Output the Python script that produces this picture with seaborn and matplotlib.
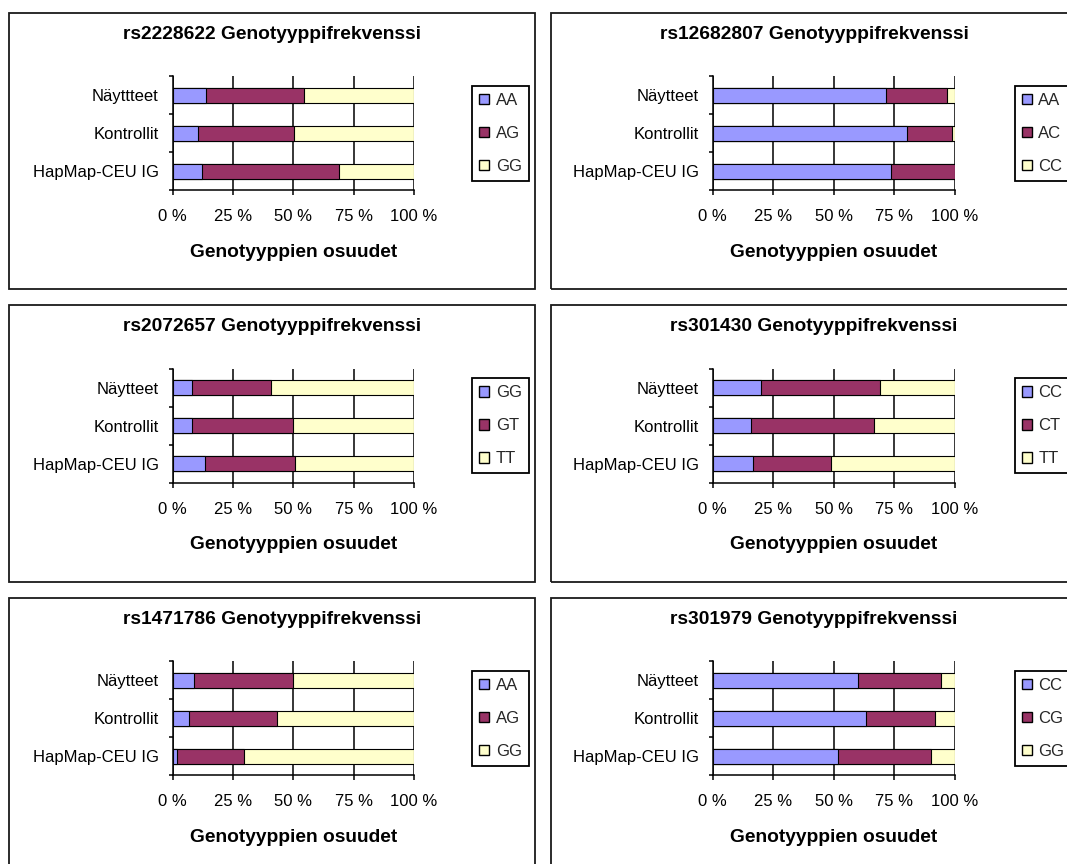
import matplotlib
matplotlib.use("Agg")
import matplotlib.pyplot as plt
from matplotlib.patches import Patch, Rectangle
import seaborn as sns

sns.set_theme(style="white")
plt.rcParams["font.family"] = ["Liberation Sans", "DejaVu Sans"]

W, H = 1067, 864

# Sample groups (the first chart spells the first group "Näyttteet")
groups_rs2228622 = ["Näyttteet", "Kontrollit", "HapMap-CEU IG"]
groups = ["Näytteet", "Kontrollit", "HapMap-CEU IG"]

# Genotype shares (%) per group: Näytteet, Kontrollit, HapMap-CEU IG
rs2228622_genotypes = ["AA", "AG", "GG"]
rs2228622_AA = [13.7, 10.4, 12.0]
rs2228622_AG = [40.8, 39.9, 56.8]
rs2228622_GG = [45.5, 49.7, 31.2]

rs12682807_genotypes = ["AA", "AC", "CC"]
rs12682807_AA = [71.8, 80.4, 73.6]
rs12682807_AC = [24.9, 18.4, 26.4]
rs12682807_CC = [3.3, 1.2, 0.0]

rs2072657_genotypes = ["GG", "GT", "TT"]
rs2072657_GG = [8.1, 8.1, 13.3]
rs2072657_GT = [32.6, 41.6, 37.4]
rs2072657_TT = [59.3, 50.3, 49.3]

rs301430_genotypes = ["CC", "CT", "TT"]
rs301430_CC = [20.0, 16.0, 16.8]
rs301430_CT = [49.2, 50.7, 32.0]
rs301430_TT = [30.8, 33.3, 51.2]

rs1471786_genotypes = ["AA", "AG", "GG"]
rs1471786_AA = [9.0, 6.6, 1.7]
rs1471786_AG = [40.9, 36.7, 27.7]
rs1471786_GG = [50.1, 56.7, 70.6]

rs301979_genotypes = ["CC", "CG", "GG"]
rs301979_CC = [60.1, 63.5, 51.9]
rs301979_CG = [34.4, 28.6, 38.4]
rs301979_GG = [5.5, 7.9, 9.7]

x_ticks = [0, 25, 50, 75, 100]
x_ticklabels = ["0 %", "25 %", "50 %", "75 %", "100 %"]
x_label = "Genotyyppien osuudet"
title_suffix = "Genotyyppifrekvenssi"

colors = ["#9999FF", "#993366", "#FFFFCC"]

panels = [
    ("rs2228622", groups_rs2228622, rs2228622_genotypes, [rs2228622_AA, rs2228622_AG, rs2228622_GG]),
    ("rs12682807", groups, rs12682807_genotypes, [rs12682807_AA, rs12682807_AC, rs12682807_CC]),
    ("rs2072657", groups, rs2072657_genotypes, [rs2072657_GG, rs2072657_GT, rs2072657_TT]),
    ("rs301430", groups, rs301430_genotypes, [rs301430_CC, rs301430_CT, rs301430_TT]),
    ("rs1471786", groups, rs1471786_genotypes, [rs1471786_AA, rs1471786_AG, rs1471786_GG]),
    ("rs301979", groups, rs301979_genotypes, [rs301979_CC, rs301979_CG, rs301979_GG]),
]

# Layout in pixels
panel_lefts = [9, 551]
panel_width = 526
panel_tops = [12.7, 305.3, 597.7]
panel_height = 276.6
axis_lefts = [172.7, 712.7]
axis_rights = [414.0, 954.5]
legend_gaps = [58, 60]
axis_top_off = 63.5
axis_bot_off = 177.5

fig = plt.figure(figsize=(W / 100, H / 100), dpi=100)
fig.patch.set_facecolor("white")

for i, (snp, cats, genotypes, shares) in enumerate(panels):
    row, col = divmod(i, 2)
    pl, pt = panel_lefts[col], panel_tops[row]
    al, ar = axis_lefts[col], axis_rights[col]
    at, ab = pt + axis_top_off, pt + axis_bot_off

    # Chart frame
    fig.add_artist(Rectangle((pl / W, 1 - (pt + panel_height) / H), panel_width / W,
                             panel_height / H, transform=fig.transFigure, fill=False,
                             ec="#1a1a1a", lw=1.3, zorder=0))

    ax = fig.add_axes([al / W, 1 - ab / H, (ar - al) / W, (ab - at) / H])

    # Stacked bars: draw running totals from the widest layer down
    totals = []
    run = [0.0, 0.0, 0.0]
    for s in shares:
        run = [r + v for r, v in zip(run, s)]
        totals.append(run)
    for k in (2, 1, 0):
        sns.barplot(x=totals[k], y=cats, orient="h", color=colors[k], saturation=1,
                    edgecolor="black", linewidth=0.8, width=0.39, errorbar=None, ax=ax)

    ax.set_xlim(0, 100)
    ax.set_ylim(2.5, -0.5)
    ax.set_xticks(x_ticks)
    ax.set_xticklabels(x_ticklabels)
    ax.set_ylabel("")
    ax.set_xlabel(x_label, fontsize=13.8, fontweight="bold", color="black", va="center")
    ax.xaxis.set_label_coords(0.5, -62 / (ab - at))
    ax.set_axisbelow(True)
    ax.xaxis.grid(True, color="black", lw=1.1)
    ax.yaxis.grid(False)
    for side in ("top", "right"):
        ax.spines[side].set_visible(False)
    for side in ("left", "bottom"):
        ax.spines[side].set_color("black")
        ax.spines[side].set_linewidth(1.1)
    ax.tick_params(axis="x", direction="out", length=3.8, width=1.1, color="black",
                   labelsize=12, labelcolor="black", pad=10, bottom=True)
    ax.tick_params(axis="y", which="major", length=0, labelsize=12,
                   labelcolor="black", pad=10)
    ax.set_yticks([-0.5, 0.5, 1.5, 2.5], minor=True)
    ax.tick_params(axis="y", which="minor", direction="out", length=3, width=1.1,
                   color="black", left=True)
    ax.set_facecolor("white")

    # Chart title centred on the frame
    fig.text((pl + panel_width / 2) / W, 1 - (pt + 21.5) / H, f"{snp} {title_suffix}",
             ha="center", va="center", fontsize=13.8, fontweight="bold", color="black")

    handles = [Patch(facecolor=c, edgecolor="black", lw=1.0) for c in colors]
    leg = ax.legend(handles, genotypes, loc="center left",
                    bbox_to_anchor=((ar + legend_gaps[col]) / W, 1 - (at + ab) / 2 / H),
                    bbox_transform=fig.transFigure, frameon=True, fancybox=False,
                    edgecolor="black", framealpha=1, fontsize=12, borderpad=0.42,
                    handlelength=0.6, handleheight=0.6, handletextpad=0.4,
                    labelspacing=1.08, borderaxespad=0)
    leg.get_frame().set_linewidth(1.3)

fig.savefig("out.png", dpi=100, facecolor="white")
